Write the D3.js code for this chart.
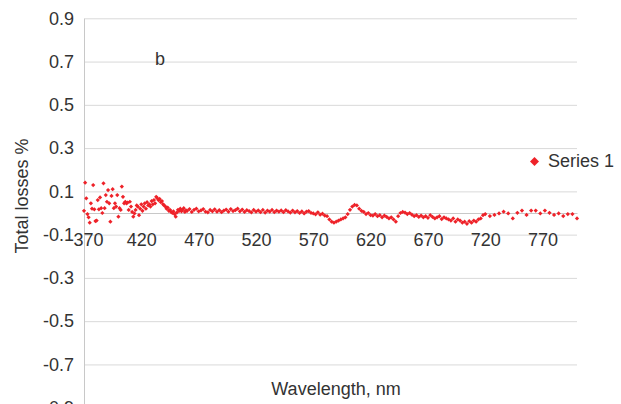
<!DOCTYPE html>
<html>
<head>
<meta charset="utf-8">
<script src="https://cdn.jsdelivr.net/npm/d3@7"></script>
<style>
  body { margin: 0; background: #fff; }
  svg { display: block; font-family: "Liberation Sans", Arial, sans-serif; }
  .axis text { font-size: 18px; fill: #333; }
</style>
</head>
<body>
<script>
const w = 621;
const h = 404;

// x ticks and y ticks
const xTicks = [370, 420, 470, 520, 570, 620, 670, 720, 770];
const yTicks = [0.9, 0.7, 0.5, 0.3, 0.1, -0.1, -0.3, -0.5, -0.7, -0.9];

// 370-459 nm, every 1 nm
const startA = 370, stepA = 1;
const valuesA = [
  0.01, 0.14, 0.068, -0.005, -0.02, -0.045, 0.045, 0.02, 0.129, 0.017,
  -0.037, -0.035, 0.06, 0.017, 0.072, 0.022, 0.0, 0.137, 0.022, 0.083,
  0.052, 0.106, 0.045, -0.04, 0.079, 0.11, 0.022, 0.045, 0.03, 0.083,
  -0.017, 0.022, 0.014, 0.122, 0.075, 0.045, 0.052, 0.045, 0.048, 0.014,
  0.052, 0.03, 0.005, -0.017, -0.002, 0.014, 0.035, 0.029, -0.01, 0.02,
  0.04, 0.01, 0.03, 0.045, 0.02, 0.05, 0.035, 0.04, 0.03, 0.055,
  0.04, 0.06, 0.045, 0.075, 0.068, 0.06, 0.065, 0.05, 0.055, 0.04,
  0.035, 0.03, 0.02, 0.025, 0.01, 0.015, 0.005, 0.0, 0.008, -0.005,
  -0.017, 0.002, 0.015, 0.01, 0.02, 0.008, 0.015, 0.022, 0.005, 0.012
];

// 460-718 nm, every 2 nm
const startB = 460, stepB = 2;
const valuesB = [
  0.01, 0.018, 0.005, 0.015, 0.02, 0.008,
  0.012, 0.018, 0.006, 0.003, 0.014, 0.008, 0.017, 0.006, 0.013, 0.004, 0.011, 0.016, 0.006, 0.018, 0.009,
  0.013, 0.02, 0.008, 0.016, 0.005, 0.013, 0.009, 0.003, 0.014, 0.006, 0.012, 0.004, 0.014, 0.002, 0.011, 0.006, 0.014, 0.004, 0.011, 0.006,
  0.012, 0.004, 0.013, 0.007, 0.002, 0.011, 0.003, 0.009, 0.0, 0.007, -0.002, 0.006, 0.009, 0.001, -0.002, -0.006, 0.003, -0.008, -0.003, -0.012,
  -0.015, -0.03, -0.04, -0.045, -0.04, -0.035, -0.03, -0.025, -0.02, -0.005,
  0.015, 0.03, 0.037, 0.035, 0.02, 0.01, 0.005, -0.005, 0.0, -0.01,
  -0.012, -0.005, -0.015, -0.01, -0.02, -0.012, -0.018, -0.025, -0.02, -0.03, -0.04, -0.015, 0.0, 0.005, 0.002, -0.005, 0.0, -0.008, -0.015, -0.01,
  -0.018, -0.012, -0.02, -0.015, -0.022, -0.01, -0.018, -0.025, -0.02, -0.015, -0.028, -0.02, -0.025, -0.03, -0.035, -0.025, -0.04, -0.03, -0.035, -0.045,
  -0.04, -0.05, -0.038, -0.045, -0.035, -0.04, -0.03, -0.025, -0.01
];

// 720-800 nm, every 4 nm
const startC = 720, stepC = 4;
const valuesC = [
  -0.005, -0.014, -0.009, -0.002, 0.006, -0.002, -0.025, 0.001, 0.011, -0.009,
  0.011, 0.011, -0.002, 0.011, 0.001, -0.009, -0.002, -0.014, -0.005, -0.005, -0.025
];

const points = [];
valuesA.forEach((v, i) => points.push([startA + i * stepA, v]));
valuesB.forEach((v, i) => points.push([startB + i * stepB, v]));
valuesC.forEach((v, i) => points.push([startC + i * stepC, v]));

const red = '#ee2229';

const svg = d3.select('body').append('svg').attr('width', w).attr('height', h);

const xScale = d3.scaleLinear().domain([370, 800]).range([84, 577]);
const yScale = d3.scaleLinear().domain([0.9, -0.9]).range([18.3, 407.7]);

// horizontal gridlines
svg.append('g')
  .attr('transform', 'translate(84,0)')
  .call(d3.axisRight(yScale).tickValues(yTicks).tickFormat('').tickSize(577 - 84))
  .call(g => g.select('.domain').remove())
  .call(g => g.selectAll('line').attr('stroke', '#d9d9d9'));

// y axis
svg.append('g')
  .attr('class', 'axis')
  .attr('transform', 'translate(84,0)')
  .call(d3.axisLeft(yScale).tickValues(yTicks).tickFormat((d) => d.toFixed(1)).tickSize(0).tickPadding(10))
  .call(g => g.select('.domain').attr('stroke', '#c8c8c8'))
  .call(g => g.selectAll('text').attr('font-family', null).attr('font-size', null));

// x axis at zero
svg.append('g')
  .attr('class', 'axis')
  .attr('transform', 'translate(0,' + yScale(0) + ')')
  .call(d3.axisBottom(xScale).tickValues(xTicks).tickSize(0).tickPadding(20))
  .call(g => g.select('.domain').attr('stroke', '#c8c8c8'))
  .call(g => g.selectAll('text').attr('font-family', null).attr('font-size', null)
    .attr('dx', (d) => d === 370 ? 4 : 0));

// data
svg.append('g')
  .selectAll('path')
  .data(points)
  .enter()
  .append('path')
  .attr('d', d3.symbol(d3.symbolSquare, 9))
  .attr('transform', (d) => 'translate(' + xScale(d[0]) + ',' + yScale(d[1]) + ') rotate(45)')
  .attr('fill', red);

// titles
svg.append('text')
  .attr('transform', 'translate(28,196) rotate(-90)')
  .attr('text-anchor', 'middle')
  .attr('font-size', 18)
  .attr('fill', '#333')
  .text('Total losses %');

svg.append('text')
  .attr('x', 336).attr('y', 395)
  .attr('text-anchor', 'middle')
  .attr('font-size', 18)
  .attr('fill', '#333')
  .text('Wavelength, nm');

svg.append('text')
  .attr('x', 155).attr('y', 65)
  .attr('font-size', 18)
  .attr('fill', '#333')
  .text('b');

// legend
svg.append('path')
  .attr('d', d3.symbol(d3.symbolSquare, 40))
  .attr('transform', 'translate(534.5,161.5) rotate(45)')
  .attr('fill', red);

svg.append('text')
  .attr('x', 548).attr('y', 167)
  .attr('font-size', 18)
  .attr('fill', '#333')
  .text('Series 1');
</script>
</body>
</html>
